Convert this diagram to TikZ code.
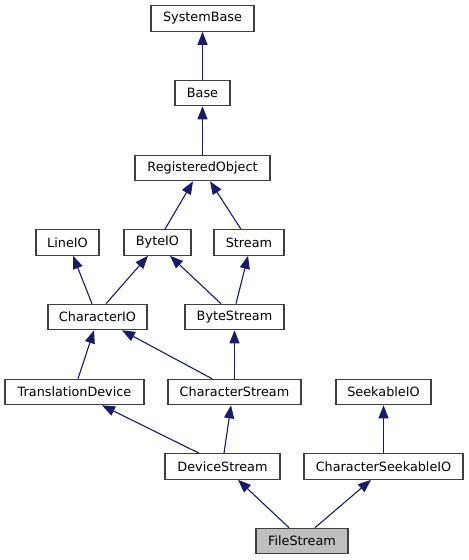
\documentclass[tikz,border=0pt]{standalone}
\usepackage{fontspec}
\setmainfont{DejaVu Sans}
\usetikzlibrary{arrows.meta}
\definecolor{edgeblue}{HTML}{191970}
\definecolor{boxline}{HTML}{404040}
\definecolor{curfill}{HTML}{BFBFBF}
\begin{document}
\begin{tikzpicture}[x=1bp,y=-1bp,
  cls/.style={draw=boxline,line width=1.1bp,fill=white,minimum height=25.5bp,inner sep=0pt,
    font=\fontsize{12.8bp}{15bp}\selectfont,text=black},
  cur/.style={cls,fill=curfill},
  inh/.style={draw=edgeblue,line width=1.1bp,-{Triangle[length=13bp,width=10bp]}}]
\useasboundingbox (0,0) rectangle (469,560);
\node[cls,minimum width=103bp] (SB) at (202.5,18.5) {SystemBase};
\node[cls,minimum width=55bp] (B) at (202.5,93) {Base};
\node[cls,minimum width=135bp] (RO) at (202.5,168) {RegisteredObject};
\node[cls,minimum width=63bp] (LIO) at (67.5,242.5) {LineIO};
\node[cls,minimum width=67bp] (BIO) at (157.5,242.5) {ByteIO};
\node[cls,minimum width=70bp] (ST) at (249,242.5) {Stream};
\node[cls,minimum width=99bp] (CIO) at (97.5,317) {CharacterIO};
\node[cls,minimum width=99bp] (BS) at (234.5,317) {ByteStream};
\node[cls,minimum width=139bp] (TD) at (74.5,392) {TranslationDevice};
\node[cls,minimum width=133bp] (CS) at (234.5,392) {CharacterStream};
\node[cls,minimum width=95bp] (SIO) at (383.5,392) {SeekableIO};
\node[cls,minimum width=115bp] (DS) at (222.5,466.5) {DeviceStream};
\node[cls,minimum width=159bp] (CSIO) at (383.5,466.5) {CharacterSeekableIO};
\node[cur,minimum width=92bp] (FS) at (302,541) {FileStream};
\draw[inh] (B.north) -- (SB.south);
\draw[inh] (RO.north) -- (B.south);
\draw[inh] ([xshift=7.5bp]BIO.north) -- ([xshift=-9.5bp]RO.south);
\draw[inh] ([xshift=-8bp]ST.north) -- ([xshift=7.5bp]RO.south);
\draw[inh] ([xshift=-5.5bp]CIO.north) -- ([xshift=5.5bp]LIO.south);
\draw[inh] ([xshift=8.5bp]CIO.north) -- ([xshift=-9.5bp]BIO.south);
\draw[inh] ([xshift=-13.5bp]BS.north) -- ([xshift=12.5bp]BIO.south);
\draw[inh] ([xshift=1.5bp]BS.north) -- ([xshift=-1bp]ST.south);
\draw[inh] ([xshift=3.5bp]TD.north) -- ([xshift=-3.5bp]CIO.south);
\draw[inh] ([xshift=-22.5bp]CS.north) -- ([xshift=24.5bp]CIO.south);
\draw[inh] (CS.north) -- (BS.south);
\draw[inh] ([xshift=-23.5bp]DS.north) -- ([xshift=27.5bp]TD.south);
\draw[inh] ([xshift=1.5bp]DS.north) -- ([xshift=-3.5bp]CS.south);
\draw[inh] (CSIO.north) -- (SIO.south);
\draw[inh] ([xshift=-13bp]FS.north) -- ([xshift=15.5bp]DS.south);
\draw[inh] ([xshift=13bp]FS.north) -- ([xshift=-12.5bp]CSIO.south);
\end{tikzpicture}
\end{document}
